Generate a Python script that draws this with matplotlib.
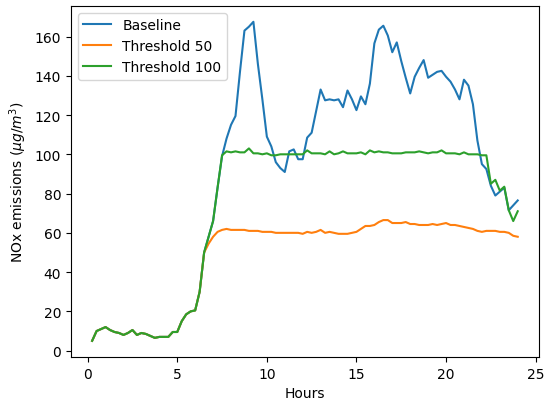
import numpy as np
import matplotlib
matplotlib.use("Agg")
import matplotlib.pyplot as plt

# Quarter-hour time axis
hours = np.arange(1, 97) * 0.25

# Shared profile before the thresholds diverge (0.25 h .. 6.5 h)
shared = [5, 10, 11, 12, 10.5, 9.5, 9, 8, 9, 10.5, 8, 9, 8.5, 7.5, 6.5, 7,
          7, 7, 9.5, 9.5, 15, 18.5, 20, 20.5, 30, 50]

baseline_tail = [58, 66, 83, 99, 108, 115, 119.5, 142, 163, 165, 167.5, 146,
                 128, 109, 104, 96, 93, 91, 101.5, 102.5, 97.5, 97.5, 108.5, 111,
                 122, 133, 127.5, 128, 127.5, 128, 124, 132.5, 128, 122.5, 129.5,
                 125.5, 136, 156.5, 163.5, 165.5, 160.5, 152, 157, 147.5, 139, 131,
                 139.5, 144, 148, 139, 140.5, 142, 142.5, 139.5, 137, 133, 128, 138,
                 135, 125.5, 107, 95, 92.5, 84, 79, 81, 83, 71.5, 74, 76.5]

threshold50_tail = [54.5, 58, 60.5, 61.5, 62, 61.5, 61.5, 61.5, 61.5, 61, 61, 61,
                    60.5, 60.5, 60.5, 60, 60, 60, 60, 60, 60, 59.5, 60.5, 60, 60.5,
                    61.5, 60, 60.5, 60, 59.5, 59.5, 59.5, 60, 60.5, 62, 63.5, 63.5,
                    64, 65.5, 66.5, 66.5, 65, 65, 65, 65.5, 64.5, 64.5, 64, 64, 64,
                    64.5, 64, 64.5, 65, 64, 64, 63.5, 63, 62.5, 62, 61, 60.5, 61, 61,
                    61, 60.5, 60.5, 60, 58.5, 58]

threshold100_tail = [58, 66, 83, 99.5, 101.5, 101, 101.5, 101, 101, 103, 100.5,
                     100.5, 100, 100.5, 99.5, 99.5, 100, 100, 100, 100, 100, 100,
                     102, 100.5, 100.5, 100.5, 100, 101.5, 100, 100.5, 101.5, 100.5,
                     100.5, 100.5, 101, 100, 102, 101, 101.5, 101, 101, 100.5, 100.5,
                     100.5, 101, 101, 101, 101.5, 101, 100.5, 101, 101, 102, 100.5,
                     100.5, 100.5, 100, 101, 100, 100, 100, 99.5, 99.5, 85, 87, 81.5,
                     83.5, 71.5, 66, 71]

baseline = shared + baseline_tail
threshold50 = shared + threshold50_tail
threshold100 = shared + threshold100_tail

fig = plt.figure(figsize=(5.45, 4.02), dpi=100)
ax = fig.add_axes([0.130, 0.110, 0.859, 0.873])

ax.plot(hours, baseline, label="Baseline")
ax.plot(hours, threshold50, label="Threshold 50")
ax.plot(hours, threshold100, label="Threshold 100")

ax.set_xlabel("Hours")
ax.set_ylabel(r"NOx emissions ($\mu g/m^3$)")
ax.legend(loc="upper left")

fig.savefig("out.png", dpi=100)
